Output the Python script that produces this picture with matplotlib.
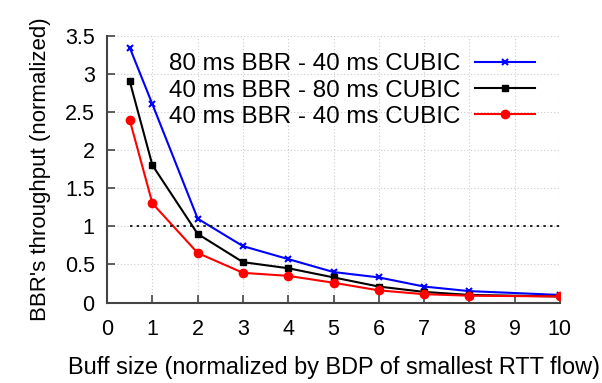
import matplotlib
matplotlib.use("Agg")
import matplotlib.pyplot as plt

plt.rcParams['font.family'] = ['Liberation Sans', 'DejaVu Sans']

# Buffer sizes (normalized by BDP of smallest RTT flow)
buff_size = [0.5, 1, 2, 3, 4, 5, 6, 7, 8, 10]

# BBR's normalized throughput per scenario
bbr80_cubic40 = [3.34, 2.60, 1.10, 0.74, 0.57, 0.40, 0.33, 0.21, 0.15, 0.10]
bbr40_cubic80 = [2.90, 1.80, 0.90, 0.53, 0.45, 0.33, 0.21, 0.14, 0.10, 0.08]
bbr40_cubic40 = [2.39, 1.30, 0.65, 0.39, 0.35, 0.26, 0.16, 0.11, 0.09, 0.08]

labels = ["80 ms BBR - 40 ms CUBIC", "40 ms BBR - 80 ms CUBIC", "40 ms BBR - 40 ms CUBIC"]
x_ticks = list(range(0, 11))
y_ticks = [0, 0.5, 1, 1.5, 2, 2.5, 3, 3.5]
y_tick_labels = ["0", "0.5", "1", "1.5", "2", "2.5", "3", "3.5"]

fig = plt.figure(figsize=(6.02, 3.83), dpi=100)
ax = fig.add_axes([0.178, 0.21, 0.752, 0.697])

ax.plot(buff_size, bbr80_cubic40, color="#0000ff", marker="x", markersize=5,
        markeredgewidth=1.5, linewidth=1.5, label=labels[0])
ax.plot(buff_size, bbr40_cubic80, color="#000000", marker="s", markersize=4,
        linewidth=1.5, label=labels[1])
ax.plot(buff_size, bbr40_cubic40, color="#ff0000", marker="o", markersize=6,
        linewidth=1.5, label=labels[2])

# fair-share reference line
ax.plot([0.5, 10], [1, 1], color="black", linestyle=(0, (1.5, 2.5)), linewidth=1.2)

ax.set_xlim(0, 10)
ax.set_ylim(0, 3.5)
ax.set_xticks(x_ticks)
ax.set_yticks(y_ticks)
ax.set_yticklabels(y_tick_labels)
ax.tick_params(direction="in", length=6, width=1.2, color="#444444",
               labelsize=15.5, pad=9)
ax.tick_params(axis="x", pad=12)
ax.grid(True, color="#cccccc", linestyle=(0, (1, 2)), linewidth=0.8)

for side in ["top", "right"]:
    ax.spines[side].set_visible(False)
for side in ["left", "bottom"]:
    ax.spines[side].set_color("#444444")
    ax.spines[side].set_linewidth(1.5)

ax.set_xlabel("Buff size (normalized by BDP of smallest RTT flow)", fontsize=16.9, labelpad=11)
ax.set_ylabel("BBR's throughput (normalized)", fontsize=16, labelpad=10)

leg = ax.legend(loc="upper right", bbox_to_anchor=(0.945, 0.934), frameon=False,
                fontsize=17.4, markerfirst=False, handlelength=2.5,
                labelspacing=0.18, handletextpad=0.6, borderaxespad=0,
                borderpad=0)
# right-align the legend text column
leg._legend_box.align = "right"
for vp in leg._legend_box.get_children()[1].get_children():
    vp.align = "right"

fig.savefig("out.png", dpi=100)
